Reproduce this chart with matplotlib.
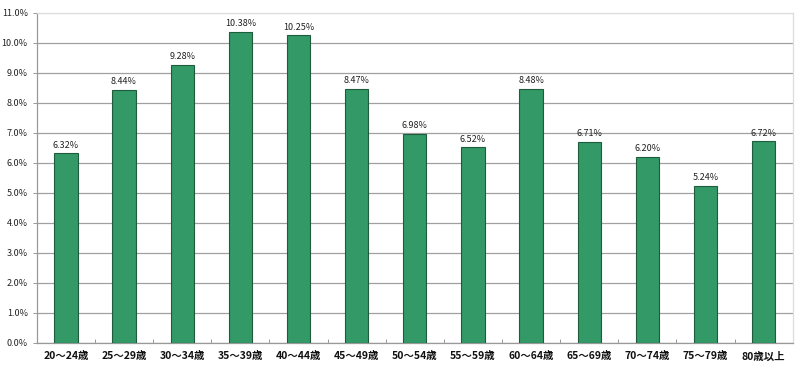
import matplotlib
matplotlib.use("Agg")
import matplotlib.pyplot as plt
import numpy as np
from matplotlib.ticker import FixedLocator

plt.rcParams['font.family'] = ['Noto Sans CJK JP', 'DejaVu Sans']

categories = ["20～24歳", "25～29歳", "30～34歳", "35～39歳", "40～44歳", "45～49歳",
              "50～54歳", "55～59歳", "60～64歳", "65～69歳", "70～74歳", "75～79歳", "80歳以上"]
values = [6.32, 8.44, 9.28, 10.38, 10.25, 8.47, 6.98, 6.52, 8.48, 6.71, 6.20, 5.24, 6.72]
yticks = np.arange(0, 11.5, 1.0)

fig = plt.figure(figsize=(8, 3.7), dpi=100)
ax = fig.add_axes([0.046, 0.073, 0.945, 0.892])

x = np.arange(len(categories))
ax.bar(x, values, width=0.4, color="#339966", edgecolor="#1f5c3d", linewidth=0.8, zorder=3)

for xi, v in zip(x, values):
    ax.text(xi, v + 0.12, f"{v:.2f}%", ha="center", va="bottom", fontsize=6.5, color="#222222")

ax.set_xlim(-0.5, len(categories) - 0.5)
ax.set_ylim(0, 11)
ax.set_yticks(yticks)
ax.set_yticklabels([f"{t:.1f}%" for t in yticks], fontsize=6.5, color="#222222")
ax.set_xticks(x)
ax.set_xticklabels(categories, fontsize=7.5, fontweight="bold", color="#111111")
ax.tick_params(axis="x", length=0, pad=6)
ax.tick_params(axis="y", length=3, direction="out", width=0.6, color="#888888")
ax.xaxis.set_minor_locator(FixedLocator(np.arange(0.5, len(categories) - 0.5, 1.0)))
ax.tick_params(axis="x", which="minor", length=3, direction="in", width=0.6, color="#888888")

ax.grid(axis="y", color="#a0a0a0", linewidth=0.9, zorder=0)
ax.set_axisbelow(True)
ax.get_ygridlines()[-1].set_color("#dddddd")
ax.spines["left"].set_color("#999999")
ax.spines["bottom"].set_color("#999999")
ax.spines["top"].set_color("#dddddd")
ax.spines["right"].set_color("#dddddd")
for side in ["left", "bottom", "right", "top"]:
    ax.spines[side].set_linewidth(0.9)

fig.savefig("out.png", dpi=100, facecolor="white")
